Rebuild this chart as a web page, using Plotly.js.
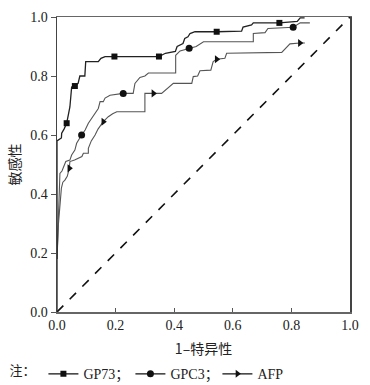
<!DOCTYPE html>
<html><head><meta charset="utf-8">
<script src="https://cdn.plot.ly/plotly-3.0.1.min.js"></script>
<style>html,body{margin:0;padding:0;background:#fff}</style>
</head><body><div id="chart" style="width:370px;height:385px"></div>
<script>
// GP73 ROC curve
const gp73X = [0,0,0.015,0.016,0.024,0.033,0.039,0.044,0.05,0.061,0.072,0.078,0.095,0.098,0.141,0.15,0.164,0.196,0.348,0.37,0.404,0.41,0.43,0.436,0.447,0.454,0.471,0.545,0.63,0.635,0.664,0.67,0.759,0.82,0.83,0.845];
const gp73Y = [0,0.58,0.59,0.606,0.62,0.64,0.67,0.695,0.763,0.766,0.775,0.8,0.8,0.849,0.849,0.86,0.866,0.866,0.866,0.877,0.883,0.9,0.91,0.927,0.933,0.944,0.95,0.95,0.952,0.966,0.973,0.98,0.98,0.985,0.997,0.997];
const gp73MarkX = [0.033,0.061,0.196,0.348,0.545,0.759];
const gp73MarkY = [0.64,0.766,0.866,0.866,0.95,0.98];
// GPC3 ROC curve
const gpc3X = [0,0.01,0.017,0.03,0.044,0.05,0.061,0.067,0.084,0.096,0.107,0.118,0.13,0.141,0.147,0.158,0.164,0.181,0.226,0.26,0.266,0.277,0.283,0.3,0.312,0.405,0.405,0.42,0.451,0.475,0.5,0.67,0.67,0.71,0.72,0.806,0.83,0.863];
const gpc3Y = [0.18,0.47,0.478,0.51,0.515,0.532,0.549,0.572,0.6,0.617,0.64,0.657,0.674,0.69,0.713,0.713,0.725,0.735,0.741,0.741,0.775,0.787,0.795,0.8,0.81,0.81,0.87,0.885,0.894,0.9,0.916,0.916,0.944,0.947,0.961,0.965,0.98,0.98];
const gpc3MarkX = [0.084,0.226,0.451,0.806];
const gpc3MarkY = [0.6,0.741,0.894,0.965];
// AFP ROC curve
const afpX = [0,0.005,0.015,0.02,0.027,0.035,0.042,0.044,0.06,0.072,0.085,0.09,0.107,0.107,0.117,0.13,0.14,0.158,0.175,0.19,0.204,0.3,0.3,0.329,0.357,0.397,0.46,0.465,0.48,0.488,0.525,0.533,0.545,0.573,0.579,0.767,0.795,0.829,0.846];
const afpY = [0.18,0.3,0.42,0.44,0.447,0.46,0.487,0.51,0.515,0.52,0.527,0.538,0.538,0.555,0.58,0.6,0.62,0.645,0.662,0.672,0.679,0.679,0.741,0.741,0.741,0.775,0.775,0.798,0.8,0.818,0.82,0.849,0.857,0.86,0.877,0.88,0.909,0.912,0.912];
const afpMarkX = [0.042,0.158,0.329,0.545,0.829];
const afpMarkY = [0.487,0.645,0.741,0.857,0.912];
// reference line
const refX = [0,1];
const refY = [0,1];
const seriesNames = ['GP73；','GPC3；','AFP'];
const tickVals = [0,0.2,0.4,0.6,0.8,1.0];
const tickText = ['0.0','0.2','0.4','0.6','0.8','1.0'];

const dark = '#222';
const grey = '#555';
const traces = [
  {x:refX,y:refY,mode:'lines',line:{color:'#111',width:1.6,dash:'dash'},showlegend:false,hoverinfo:'skip'},
  {x:afpX,y:afpY,mode:'lines',line:{color:grey,width:1.1},showlegend:false},
  {x:gpc3X,y:gpc3Y,mode:'lines',line:{color:grey,width:1.1},showlegend:false},
  {x:gp73X,y:gp73Y,mode:'lines',line:{color:dark,width:1.3},showlegend:false},
  {x:gp73MarkX,y:gp73MarkY,mode:'markers',marker:{symbol:'square',size:6,color:'#111'},showlegend:false},
  {x:gpc3MarkX,y:gpc3MarkY,mode:'markers',marker:{symbol:'circle',size:7,color:'#111'},showlegend:false},
  {x:afpMarkX,y:afpMarkY,mode:'markers',marker:{symbol:'triangle-right',size:7,color:'#111'},showlegend:false},
  {x:[null],y:[null],mode:'lines+markers',name:seriesNames[0],line:{color:'#111',width:1.3},marker:{symbol:'square',size:6,color:'#111'}},
  {x:[null],y:[null],mode:'lines+markers',name:seriesNames[1],line:{color:'#111',width:1.3},marker:{symbol:'circle',size:7,color:'#111'}},
  {x:[null],y:[null],mode:'lines+markers',name:seriesNames[2],line:{color:'#111',width:1.3},marker:{symbol:'triangle-right',size:7,color:'#111'}}
];
const fontSerif = 'Liberation Serif, Times New Roman, Noto Sans CJK SC, serif';
const fontCJK = 'Noto Sans CJK SC, Liberation Serif, serif';
const layout = {
  width:370,height:385,
  margin:{l:57,r:20,t:17,b:73},
  paper_bgcolor:'#fff',plot_bgcolor:'#fff',
  font:{family:fontSerif,size:14,color:'#222'},
  showlegend:true,
  legend:{orientation:'h',xref:'container',yref:'container',x:0.02,xanchor:'left',y:0.028,yanchor:'middle',
    title:{text:'注：',font:{family:fontCJK,size:13}},
    font:{family:fontSerif,size:14,color:'#222'},itemwidth:30,entrywidth:42,tracegroupgap:0},
  xaxis:{range:[0,1],tickvals:tickVals,ticktext:tickText,ticks:'inside',ticklen:4,tickcolor:'#555',
    showline:true,linecolor:'#666',linewidth:1.5,mirror:true,showgrid:false,zeroline:false,automargin:false,
    title:{text:'1–特异性',font:{family:fontCJK,size:14},standoff:16},fixedrange:true},
  yaxis:{range:[0,1],tickvals:tickVals,ticktext:tickText,ticks:'outside',ticklen:5,tickcolor:'#555',
    showline:true,linecolor:'#444',linewidth:1.5,mirror:true,showgrid:false,zeroline:false,automargin:false,
    title:{text:'敏感性',font:{family:fontCJK,size:14},standoff:6},fixedrange:true}
};
Plotly.newPlot('chart',traces,layout,{displayModeBar:false,staticPlot:true});
</script></body></html>
